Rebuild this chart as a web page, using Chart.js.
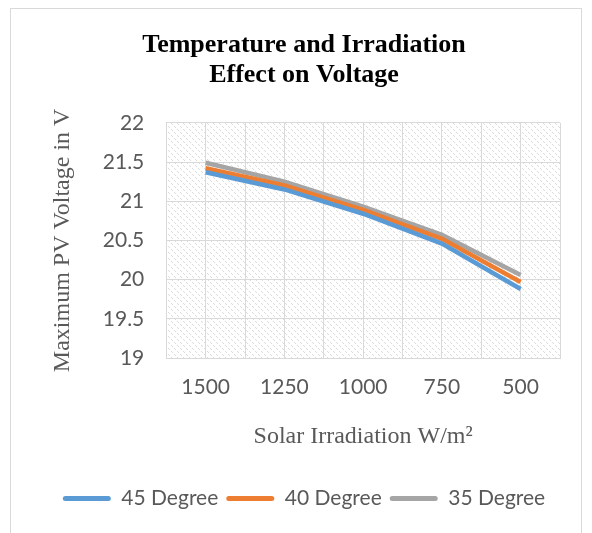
<!DOCTYPE html>
<html>
<head>
<meta charset="utf-8">
<script src="https://cdn.jsdelivr.net/npm/chart.js@4"></script>
<style>
  html, body { margin: 0; padding: 0; background: #fff; }
  #wrap { position: relative; width: 592px; height: 533px; overflow: hidden; }
  #frame { position: absolute; left: 10px; top: 8px; width: 572px; height: 560px; border: 1px solid #d9d9d9; box-sizing: border-box; }
  canvas { position: absolute; left: 0; top: 0; }
</style>
</head>
<body>
<div id="wrap">
  <div id="frame"></div>
  <canvas id="voltChart" width="592" height="533"></canvas>
</div>
<script>
// values
var irradiation = ['1500', '1250', '1000', '750', '500'];
var deg45 = [21.37, 21.15, 20.84, 20.46, 19.88];
var deg40 = [21.42, 21.20, 20.89, 20.52, 19.97];
var deg35 = [21.49, 21.25, 20.93, 20.57, 20.06];
var yTicks = [19, 19.5, 20, 20.5, 21, 21.5, 22];

document.addEventListener('DOMContentLoaded', function() {
    // diagonal hatch for the plot area
    var tile = document.createElement('canvas');
    tile.width = 6; tile.height = 6;
    var tctx = tile.getContext('2d');
    tctx.fillStyle = '#dcdcdc';
    for (var i = 0; i < 6; i++) {
        if (i % 3 != 2) tctx.fillRect(i, i, 1, 1);
    }

    var hatch = {
        id: 'hatch',
        beforeDraw: function(chart) {
            var a = chart.chartArea, c = chart.ctx;
            c.save();
            c.fillStyle = c.createPattern(tile, 'repeat');
            c.fillRect(a.left, a.top, a.right - a.left, a.bottom - a.top);
            c.restore();
        }
    };

    var grey = '#595959';
    var ctx = document.getElementById('voltChart').getContext('2d');
    var voltChart = new Chart(ctx, {
        type: 'line',
        data: {
            labels: irradiation,
            datasets: [
                { label: '45 Degree', data: deg45, borderColor: '#5B9BD5', backgroundColor: '#5B9BD5' },
                { label: '40 Degree', data: deg40, borderColor: '#ED7D31', backgroundColor: '#ED7D31' },
                { label: '35 Degree', data: deg35, borderColor: '#A5A5A5', backgroundColor: '#A5A5A5' }
            ]
        },
        options: {
            responsive: false,
            animation: false,
            devicePixelRatio: 1,
            elements: {
                line: { borderWidth: 4.5, tension: 0, borderCapStyle: 'butt' },
                point: { radius: 0 }
            },
            layout: { padding: { top: 30, left: 48, right: 32, bottom: 14 } },
            scales: {
                x: {
                    offset: true,
                    grid: { offset: true, color: '#d9d9d9', drawTicks: false },
                    border: { color: '#d9d9d9' },
                    ticks: { color: grey, padding: 17, font: { family: 'Lato', size: 21 } },
                    title: {
                        display: true, text: 'Solar Irradiation W/m\u00B2', color: grey,
                        font: { family: 'Liberation Serif', size: 24 },
                        padding: { top: 5, bottom: 29 }
                    }
                },
                x2: {
                    type: 'category',
                    position: 'bottom',
                    offset: true,
                    grid: { offset: false, color: '#d9d9d9', drawTicks: false },
                    border: { display: false },
                    ticks: { display: false },
                    afterFit: function(s) { s.height = 0; }
                },
                y: {
                    min: 19,
                    max: 22,
                    afterBuildTicks: function(s) {
                        s.ticks = yTicks.map(function(v) { return { value: v }; });
                    },
                    grid: { color: '#d9d9d9', drawTicks: false },
                    border: { color: '#d9d9d9' },
                    ticks: {
                        color: grey, padding: 22, font: { family: 'Lato', size: 21 },
                        callback: function(v) { return String(v); }
                    },
                    title: {
                        display: true, text: 'Maximum PV Voltage in V', color: grey,
                        font: { family: 'Liberation Serif', size: 24 },
                        padding: { top: 0, bottom: 4 }
                    }
                }
            },
            plugins: {
                title: {
                    display: true,
                    text: ['Temperature and Irradiation', 'Effect on Voltage'],
                    color: '#000',
                    font: { family: 'Liberation Serif', size: 26, weight: 'bold', lineHeight: 1.15 },
                    padding: { top: 0, bottom: 33 }
                },
                legend: {
                    position: 'bottom',
                    labels: {
                        color: grey,
                        boxWidth: 48,
                        boxHeight: 5,
                        padding: 8,
                        useBorderRadius: true,
                        borderRadius: 2.5,
                        font: { family: 'Lato', size: 21 },
                        generateLabels: function(chart) {
                            var items = Chart.defaults.plugins.legend.labels.generateLabels(chart);
                            items.forEach(function(it) { it.lineWidth = 0; });
                            return items;
                        }
                    }
                },
                tooltip: { enabled: false }
            }
        },
        plugins: [hatch]
    });
});
</script>
</body>
</html>
